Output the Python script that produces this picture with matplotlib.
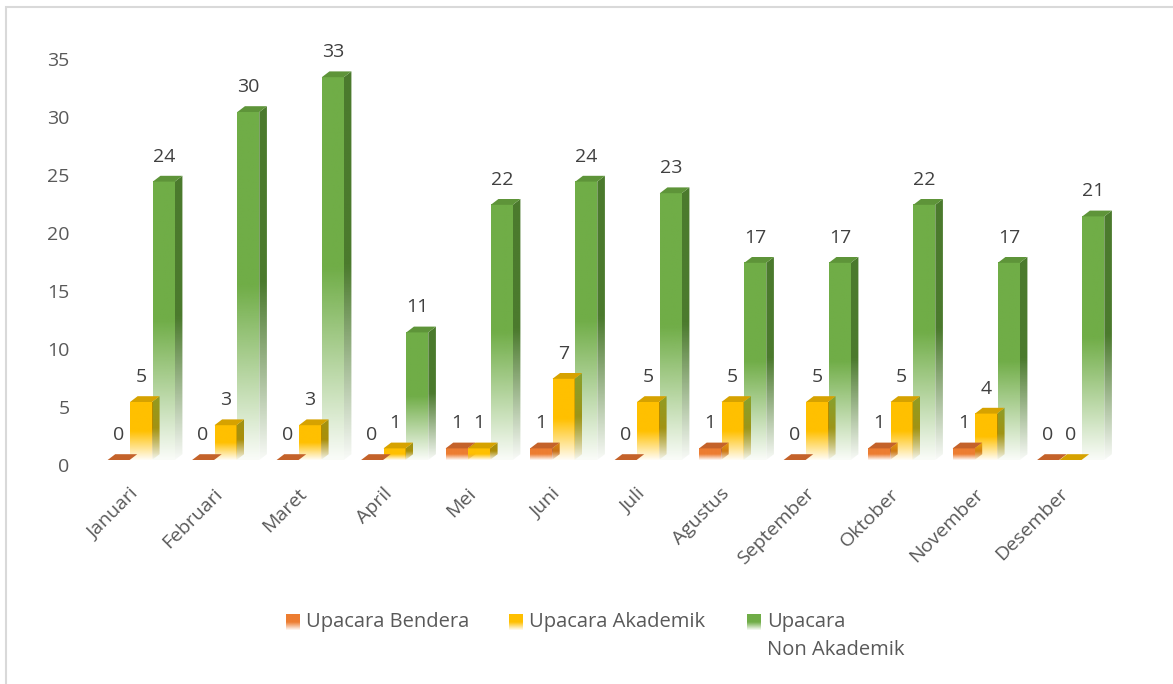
import numpy as np
import matplotlib.pyplot as plt
import matplotlib.transforms as mtransforms
from matplotlib.patches import Polygon, Rectangle
from matplotlib.colors import to_rgb

plt.rcParams['font.family'] = ['Open Sans', 'DejaVu Sans']

W, H = 1173, 684

months = ["Januari", "Februari", "Maret", "April", "Mei", "Juni", "Juli",
          "Agustus", "September", "Oktober", "November", "Desember"]
bendera = [0, 0, 0, 0, 1, 1, 0, 1, 0, 1, 1, 0]
akademik = [5, 3, 3, 1, 1, 7, 5, 5, 5, 5, 4, 0]
non_akademik = [24, 30, 33, 11, 22, 24, 23, 17, 17, 22, 17, 21]
series_names = ["Upacara Bendera", "Upacara Akademik", "Upacara\nNon Akademik"]

# front, side, top colours
colors = [("#ED7D31", "#B9581C", "#C4622A"),
          ("#FFC000", "#B38A00", "#D6A200"),
          ("#70AD47", "#4B7A2D", "#5E9439")]

BAR_W = 0.26
OFFSETS = [-0.265, 0.0, 0.27]
DX = 0.09   # depth in x (data units)
DY = 0.5    # depth in y (data units)


def fade(rgb, n=120):
    # solid in top half, fades out to the bottom
    t = np.linspace(0, 1, n)
    a = 0.04 + 0.96 * np.clip(t / 0.5, 0, 1)
    img = np.zeros((n, 1, 4))
    img[:, 0, :3] = to_rgb(rgb)
    img[:, 0, 3] = a
    return img


def draw_bar(ax, x, h, front, side, top):
    x0, x1 = x - BAR_W / 2, x + BAR_W / 2
    if h > 0:
        ax.imshow(fade(front), extent=(x0, x1, 0, h), origin='lower',
                  aspect='auto', interpolation='bilinear', zorder=2)
        poly = Polygon([(x1, 0), (x1 + DX, DY), (x1 + DX, h + DY), (x1, h)],
                       closed=True, facecolor='none', edgecolor='none')
        ax.add_patch(poly)
        im = ax.imshow(fade(side), extent=(x1, x1 + DX, 0, h + DY), origin='lower',
                       aspect='auto', interpolation='bilinear', zorder=2)
        im.set_clip_path(poly)
    ax.add_patch(Polygon([(x0, h), (x0 + DX, h + DY), (x1 + DX, h + DY), (x1, h)],
                         closed=True, facecolor=top, edgecolor='none', zorder=3))


fig = plt.figure(figsize=(W / 100, H / 100), dpi=100)
ax = fig.add_axes([98.75 / W, 1 - 460 / H, 1014 / W, 406 / H])

data = [bendera, akademik, non_akademik]
for i in range(len(months)):
    for s in range(3):
        v = data[s][i]
        x = i + OFFSETS[s]
        draw_bar(ax, x, v, *colors[s])
        ax.annotate(str(v), (x, v), xytext=(0, 18), textcoords='offset points',
                    ha='center', va='center', fontsize=14, color='#404040',
                    annotation_clip=False)

ax.set_xlim(-0.5, 11.5)
ax.set_ylim(0, 35)
ax.set_yticks(range(0, 36, 5))
ax.set_xticks(range(len(months)))
ax.set_xticklabels(months, rotation=45, ha='right', va='top', rotation_mode='anchor')
ax.tick_params(axis='y', length=0, pad=21, labelsize=14, labelcolor='#595959')
ax.tick_params(axis='x', length=0, pad=12, labelsize=14, labelcolor='#595959')
for sp in ax.spines.values():
    sp.set_visible(False)

shift_y = mtransforms.ScaledTranslation(0, -5 / 100, fig.dpi_scale_trans)
for lab in ax.get_yticklabels():
    lab.set_transform(lab.get_transform() + shift_y)
shift_x = mtransforms.ScaledTranslation(-12 / 100, -8 / 100, fig.dpi_scale_trans)
for lab in ax.get_xticklabels():
    lab.set_transform(lab.get_transform() + shift_x)

# outer frame (only top/left inside the picture)
fig.patches.append(Rectangle((6 / W, -0.5), 2, 1.5 - 7 / H, transform=fig.transFigure,
                             facecolor='none', edgecolor='#D9D9D9', linewidth=1.5))

# legend
leg_x = [286, 509, 747]
for s in range(3):
    px = leg_x[s]
    lax = fig.add_axes([px / W, 1 - 630 / H, 14 / W, 16 / H])
    lax.imshow(fade(colors[s][0]), origin='lower', aspect='auto',
               interpolation='bilinear', extent=(0, 1, 0, 1))
    lax.set_xlim(0, 1)
    lax.set_ylim(0, 1)
    lax.axis('off')
    for k, line in enumerate(series_names[s].split("\n")):
        fig.text((px + 20) / W, 1 - (622 + 28 * k) / H, line, fontsize=14.5,
                 color='#595959', ha='left', va='center')

fig.savefig("out.png", dpi=100)
